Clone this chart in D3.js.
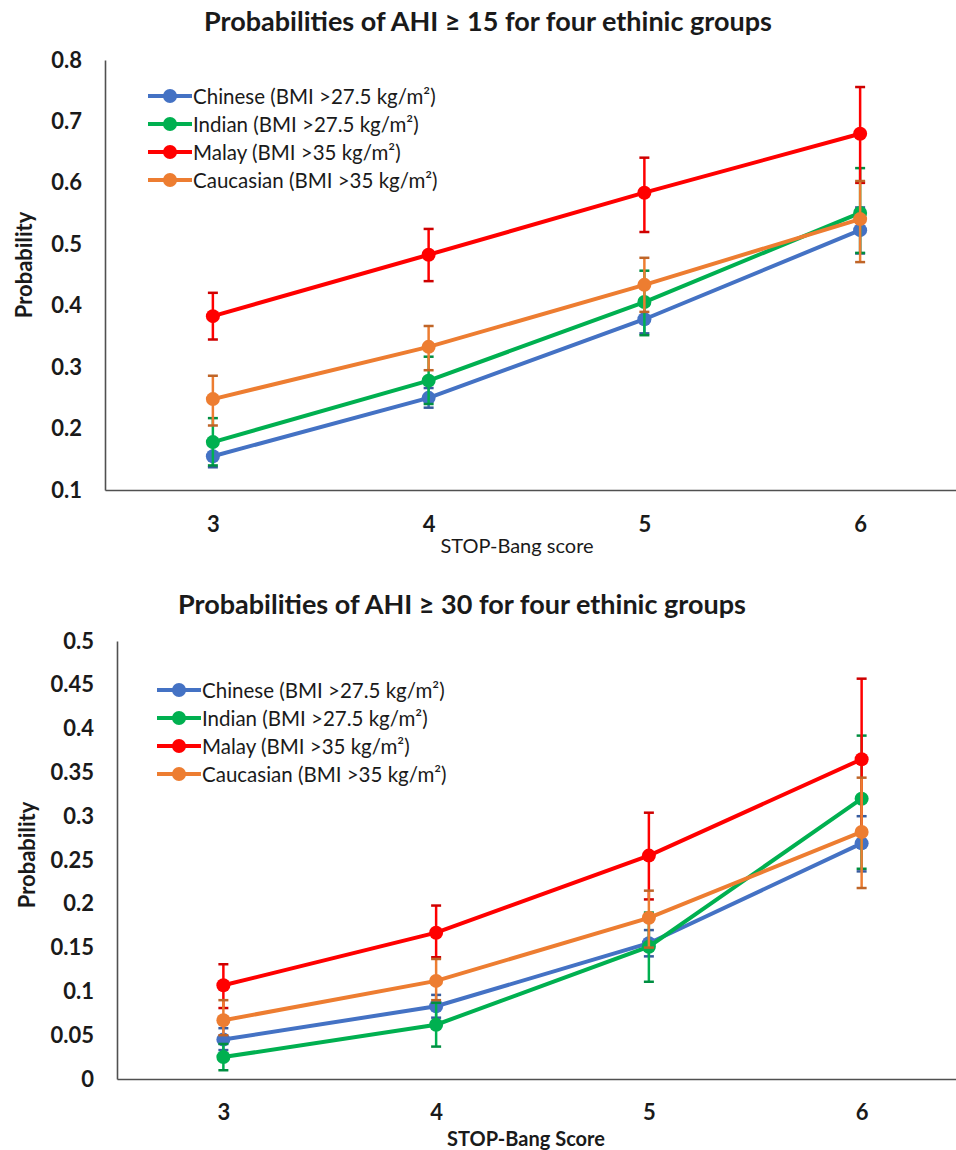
<!DOCTYPE html>
<html>
<head>
<meta charset="utf-8">
<script src="https://cdn.jsdelivr.net/npm/d3@7"></script>
<style>
  body { margin: 0; background: #fff; }
  svg { display: block; font-family: Lato, 'Open Sans', sans-serif; }
</style>
</head>
<body>
<svg id="chart"></svg>
<script>
const scores = [3, 4, 5, 6]
const groupNames = ['Chinese (BMI >27.5 kg/m²)', 'Indian (BMI >27.5 kg/m²)', 'Malay (BMI >35 kg/m²)', 'Caucasian (BMI >35 kg/m²)']
const groupColors = ['#4472C4', '#00B050', '#FF0000', '#ED7D31']

// AHI >= 15 (rows: Chinese, Indian, Malay, Caucasian)
const ahi15Mean = [
    [0.155, 0.250, 0.378, 0.523],
    [0.178, 0.278, 0.406, 0.551],
    [0.383, 0.483, 0.584, 0.680],
    [0.248, 0.333, 0.434, 0.541]]
const ahi15Low = [
    [0.137, 0.234, 0.355, 0.485],
    [0.140, 0.240, 0.352, 0.486],
    [0.345, 0.440, 0.520, 0.600],
    [0.205, 0.295, 0.390, 0.471]]
const ahi15High = [
    [0.172, 0.266, 0.400, 0.560],
    [0.217, 0.317, 0.457, 0.624],
    [0.421, 0.525, 0.641, 0.756],
    [0.286, 0.367, 0.478, 0.603]]
const ahi15Ticks = [0.1, 0.2, 0.3, 0.4, 0.5, 0.6, 0.7, 0.8]

// AHI >= 30
const ahi30Mean = [
    [0.045, 0.083, 0.155, 0.269],
    [0.025, 0.062, 0.151, 0.320],
    [0.107, 0.167, 0.255, 0.365],
    [0.067, 0.112, 0.184, 0.282]]
const ahi30Low = [
    [0.033, 0.070, 0.140, 0.237],
    [0.010, 0.037, 0.111, 0.240],
    [0.081, 0.139, 0.205, 0.280],
    [0.050, 0.090, 0.150, 0.218]]
const ahi30High = [
    [0.058, 0.096, 0.170, 0.300],
    [0.040, 0.087, 0.190, 0.392],
    [0.131, 0.198, 0.304, 0.457],
    [0.090, 0.137, 0.215, 0.344]]
const ahi30Ticks = [0, 0.05, 0.1, 0.15, 0.2, 0.25, 0.3, 0.35, 0.4, 0.45, 0.5]

const width = 956
const height = 1150
const svg = d3.select('#chart').attr('width', width).attr('height', height)

const render = (opt) => {
    const xScale = d3.scalePoint()
        .domain(scores)
        .range([opt.left, 968])
        .padding(0.5)
    const yScale = d3.scaleLinear()
        .domain([opt.ticks[0], opt.ticks[opt.ticks.length - 1]])
        .range([opt.bottom, opt.top])

    const g = svg.append('g')

    g.append('text')
        .attr('x', opt.titleX).attr('y', opt.titleY)
        .attr('text-anchor', 'middle')
        .attr('dominant-baseline', 'central')
        .attr('font-size', 27).attr('font-weight', 'bold')
        .attr('fill', '#1a1a1a')
        .text(opt.title)

    const yAxis = g.append('g')
        .attr('transform', `translate(${opt.left},0)`)
        .call(d3.axisLeft(yScale).tickValues(opt.ticks).tickSize(0).tickPadding(23)
            .tickFormat(d => String(+d.toFixed(2))))
    const xAxis = g.append('g')
        .attr('transform', `translate(0,${opt.bottom})`)
        .call(d3.axisBottom(xScale).tickSize(0).tickPadding(opt.xPad))
    ;[yAxis, xAxis].forEach(a => {
        a.select('.domain').attr('stroke', '#505050').attr('stroke-width', 1.6)
        a.selectAll('text').attr('font-size', 22).attr('font-weight', 'bold')
            .attr('fill', '#1a1a1a').attr('font-family', 'Lato, sans-serif')
    })

    g.append('text')
        .attr('transform', `translate(${opt.yTitleX},${opt.yTitleY}) rotate(-90)`)
        .attr('text-anchor', 'middle')
        .attr('dominant-baseline', 'central')
        .attr('font-size', 22).attr('font-weight', 'bold')
        .attr('fill', '#1a1a1a')
        .text('Probability')

    g.append('text')
        .attr('x', opt.xTitleX).attr('y', opt.xTitleY)
        .attr('text-anchor', 'middle')
        .attr('dominant-baseline', 'central')
        .attr('font-size', 20).attr('font-weight', opt.xTitleWeight)
        .attr('fill', '#1a1a1a')
        .text(opt.xTitle)

    const line = d3.line()
        .x((d, i) => xScale(scores[i]))
        .y(d => yScale(d))

    opt.mean.forEach((vals, s) => {
        const color = groupColors[s]
        const sg = g.append('g')
        scores.forEach((sc, i) => {
            const x = xScale(sc)
            const y1 = yScale(opt.low[s][i])
            const y2 = yScale(opt.high[s][i])
            sg.append('line').attr('x1', x).attr('x2', x).attr('y1', y1).attr('y2', y2)
                .attr('stroke', color).attr('stroke-width', 2.5)
            ;[y1, y2].forEach(y => sg.append('line')
                .attr('x1', x - 5).attr('x2', x + 5).attr('y1', y).attr('y2', y)
                .attr('stroke', d3.color(color).darker(0.6)).attr('stroke-width', 2.5))
        })
        sg.append('path').datum(vals)
            .attr('d', line)
            .attr('fill', 'none')
            .attr('stroke', color)
            .attr('stroke-width', 4)
        sg.selectAll('circle').data(vals).enter().append('circle')
            .attr('cx', (d, i) => xScale(scores[i]))
            .attr('cy', d => yScale(d))
            .attr('r', 7)
            .attr('fill', color)
    })

    const lg = g.append('g')
    groupNames.forEach((name, i) => {
        const y = opt.legendY + i * 28
        lg.append('line')
            .attr('x1', opt.legendX).attr('x2', opt.legendX + 44)
            .attr('y1', y).attr('y2', y)
            .attr('stroke', groupColors[i]).attr('stroke-width', 4)
        lg.append('circle')
            .attr('cx', opt.legendX + 22).attr('cy', y).attr('r', 7)
            .attr('fill', groupColors[i])
        lg.append('text')
            .attr('x', opt.legendX + 45).attr('y', y)
            .attr('dominant-baseline', 'central')
            .attr('font-size', 20.5)
            .attr('fill', '#1a1a1a')
            .text(name)
    })
}

render({
    title: 'Probabilities of AHI ≥ 15 for four ethinic groups',
    titleX: 488, titleY: 20,
    left: 105, top: 60, bottom: 490,
    ticks: ahi15Ticks,
    mean: ahi15Mean, low: ahi15Low, high: ahi15High,
    xPad: 26,
    xTitle: 'STOP-Bang score', xTitleX: 517, xTitleY: 545, xTitleWeight: 'normal',
    yTitleX: 23, yTitleY: 265,
    legendX: 148, legendY: 96
})

render({
    title: 'Probabilities of AHI ≥ 30 for four ethinic groups',
    titleX: 462, titleY: 603,
    left: 117, top: 641, bottom: 1079,
    ticks: ahi30Ticks,
    mean: ahi30Mean, low: ahi30Low, high: ahi30High,
    xPad: 25,
    xTitle: 'STOP-Bang Score', xTitleX: 526, xTitleY: 1138, xTitleWeight: 'bold',
    yTitleX: 26, yTitleY: 855,
    legendX: 157, legendY: 690
})
</script>
</body>
</html>
